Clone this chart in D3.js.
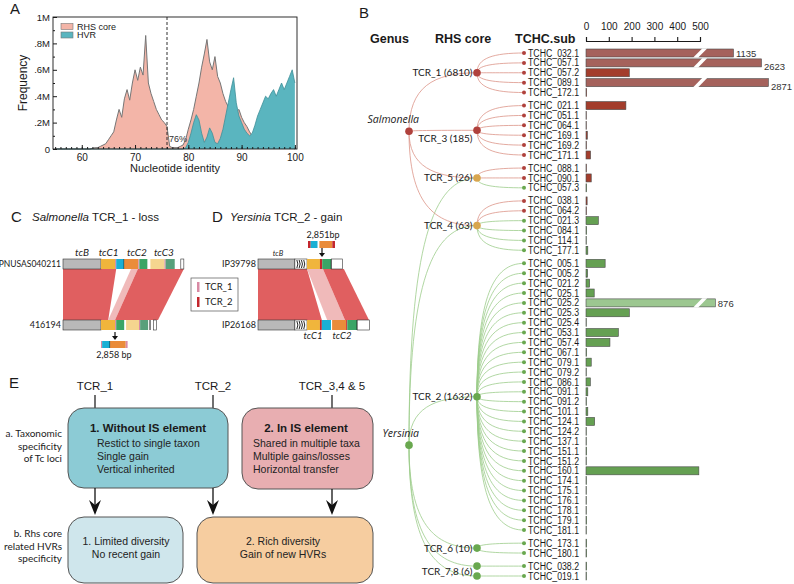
<!DOCTYPE html>
<html>
<head>
<meta charset="utf-8">
<script src="https://cdn.jsdelivr.net/npm/d3@7"></script>
<style>
  body { margin: 0; background: #fff; }
  svg { display: block; font-family: "Liberation Sans", Arial, sans-serif; }
</style>
</head>
<body>
<svg id="fig" width="794" height="584"></svg>
<script>
// ---------- data ----------
// panel A: frequency by nucleotide identity (in millions), 55..100 step 0.5
const identity = d3.range(55, 100.01, 0.5);
const rhsCore = [0,0,0,0,0,0,0,0,0,0,0,0,0,0,0.005,0.01,0.01,0.02,0.03,0.04,
  0.07,0.1,0.13,0.22,0.3,0.24,0.38,0.45,0.37,0.5,0.6,0.52,0.62,0.56,0.86,0.5,0.42,0.36,0.3,0.26,
  0.22,0.2,0.17,0.02,0.01,0.01,0.01,0.02,0.03,0.07,0.15,0.22,0.3,0.4,0.5,0.62,0.72,0.83,0.66,0.6,
  0.7,0.55,0.5,0.42,0.36,0.32,0.34,0.3,0.28,0.3,0.24,0.2,0.17,0.13,0.1,0.07,0.05,0.04,0.03,0.03,
  0.02,0.02,0.02,0.01,0.01,0.01,0.01,0.01,0.01,0.01,0];
const hvr = [0,0,0,0,0,0,0,0,0,0,0,0,0,0,0,0,0,0,0,0,
  0,0,0,0,0,0,0,0,0,0,0,0,0,0,0,0,0,0,0,0,
  0,0,0,0,0,0,0,0,0,0.01,0.05,0.12,0.2,0.26,0.22,0.12,0.05,0.09,0.16,0.12,
  0.05,0.04,0.08,0.15,0.25,0.35,0.45,0.54,0.35,0.25,0.2,0.15,0.12,0.1,0.12,0.18,0.25,0.3,0.35,0.4,
  0.38,0.42,0.45,0.4,0.45,0.5,0.45,0.5,0.55,0.6,0.5];

// panel B
const genera = ["Salmonella", "Yersinia"];
const cores = ["TCR_1", "TCR_3", "TCR_5", "TCR_4", "TCR_2", "TCR_6", "TCR_7", "TCR_8"];
const coreLabels = ["TCR_1 (6810)", "TCR_3 (185)", "TCR_5 (26)", "TCR_4 (63)", "TCR_2 (1632)", "TCR_6 (10)", "TCR_7,8 (6)", "TCR_7,8 (6)"];
const coreGenera = [["S"], ["S"], ["S", "Y"], ["S", "Y"], ["Y"], ["Y"], ["Y"], ["Y"]];
const coreSizes = [5, 6, 3, 6, 28, 2, 1, 1];
const subNames = [
  "TCHC_032.1","TCHC_057.1","TCHC_057.2","TCHC_089.1","TCHC_172.1",
  "TCHC_021.1","TCHC_051.1","TCHC_064.1","TCHC_169.1","TCHC_169.2","TCHC_171.1",
  "TCHC_088.1","TCHC_090.1","TCHC_057.3",
  "TCHC_038.1","TCHC_064.2","TCHC_021.3","TCHC_084.1","TCHC_114.1","TCHC_177.1",
  "TCHC_005.1","TCHC_005.2","TCHC_021.2","TCHC_025.1","TCHC_025.2","TCHC_025.3","TCHC_025.4",
  "TCHC_053.1","TCHC_057.4","TCHC_067.1","TCHC_079.1","TCHC_079.2","TCHC_086.1","TCHC_091.1",
  "TCHC_091.2","TCHC_101.1","TCHC_124.1","TCHC_124.2","TCHC_137.1","TCHC_151.1","TCHC_151.2",
  "TCHC_160.1","TCHC_174.1","TCHC_175.1","TCHC_176.1","TCHC_178.1","TCHC_179.1","TCHC_181.1",
  "TCHC_173.1","TCHC_180.1",
  "TCHC_038.2","TCHC_019.1"];
const subGenus = ["S","S","S","S","S","S","S","S","S","S","S","S","S","Y","S","S","Y","Y","Y","Y",
  "Y","Y","Y","Y","Y","Y","Y","Y","Y","Y","Y","Y","Y","Y","Y","Y","Y","Y","Y","Y",
  "Y","Y","Y","Y","Y","Y","Y","Y","Y","Y","Y","Y"];
const subValues = [1135, 2623, 190, 2871, 3,
  175, 1, 1, 6, 2, 20,
  2, 23, 3,
  5, 2, 54, 3, 1, 8,
  84, 7, 16, 36, 876, 190, 1, 142, 105, 3, 23, 1, 19, 8, 2, 8, 38, 1, 1, 3, 1, 495, 2, 1, 1, 1, 3, 1,
  3, 3,
  3, 2];
const barTicks = [0, 100, 200, 300, 400, 500];

// panel C / D gene tracks (segment type, length in kb)
const cTop = [["tcB",10],["tcC1",3.7],["tcr1",0.3],["cyan",2.1],["sep",0],["orange",3.7],["tcr1",0.3],["green",2.1],["gap",0.8],["tan",3.7],["tcr1",0.3],["teal",2.4],["gap",1.6],["box",0.8]];
const cBottom = [["tcB",10],["tcC1",3.7],["tcr1",0.3],["green",2.1],["gap",0.5],["tan",3.4],["tcr1",0.3],["teal",2.1],["gap",0.5],["sep",0],["gap",0.9],["box",0.8]];
const cInsert = [["tcr1",0.3],["cyan",2.1],["sep",0],["orange",4.1],["tcr1",0.5]];
const cGenes = [["tcB",0,10],["tcC1",10,14],["tcC2",16.4,22.5],["tcC3",23.1,30]];
const cLinks = [[0,14,0,11.9,"full"],[17.9,19.7,11.9,13.7,"light"],[19.7,31.8,13.7,25,"full"]];
const dTop = [["tcB",9.7],["hatch",3.2],["tcC1",3.4],["tcr2",0.6],["green",2.4],["sep",0],["box",2.9]];
const dBottom = [["tcB",9.7],["hatch",3.2],["tcC1",3.4],["tcr2",0.5],["cyan",2.4],["gap",0.3],["orange",3.7],["tcr2",0.3],["green",2.6],["sep",0],["box",3.2]];
const dInsert = [["tcr2",0.7],["cyan",1.8],["gap",0.5],["orange",3.4],["tcr2",0.7]];
const dLinks = [[0,12.9,0,16.8,"full"],[12.9,17.1,18.2,22.9,"light"],[17.1,22.6,22.9,29.2,"full"]];

// panel E
const eTop = ["TCR_1", "TCR_2", "TCR_3,4 & 5"];
const eBox1 = ["1. Without IS element", "Restict to single taxon", "Single gain", "Vertical inherited"];
const eBox2 = ["2. In IS element", "Shared in multiple taxa", "Multiple gains/losses", "Horizontal transfer"];
const eBox3 = ["1. Limited diversity", "No recent gain"];
const eBox4 = ["2. Rich diversity", "Gain of new HVRs"];
const eRowA = ["a. Taxonomic", "specificity", "of Tc loci"];
const eRowB = ["b. Rhs core", "related HVRs", "specificity"];

// ---------- drawing ----------
const svg = d3.select("#fig");
const ink = "#1a1a1a";

function panelLetter(x, y, t) {
  svg.append("text").attr("x", x).attr("y", y).attr("font-size", 15).attr("fill", ink).text(t);
}

// ===== Panel A =====
panelLetter(10, 14, "A");
const xA = d3.scaleLinear().domain([54.6, 100.4]).range([53, 297]);
const yA = d3.scaleLinear().domain([0, 1]).range([149, 17]);
const gA = svg.append("g");

const areaA = d3.area().x((d, i) => xA(identity[i])).y0(yA(0)).y1(d => yA(d));
const lineA = d3.line().x((d, i) => xA(identity[i])).y(d => yA(d));
gA.append("path").datum(rhsCore).attr("d", areaA).attr("fill", "#f3b5a8");
gA.append("path").datum(rhsCore).attr("d", lineA).attr("fill", "none").attr("stroke", "#767676").attr("stroke-width", 1);
gA.append("path").datum(hvr).attr("d", areaA).attr("fill", "#5ab5bf");
gA.append("path").datum(hvr).attr("d", lineA).attr("fill", "none").attr("stroke", "#3f8f98").attr("stroke-width", 0.8);

gA.append("line").attr("x1", xA(76)).attr("x2", xA(76)).attr("y1", yA(1)).attr("y2", yA(0))
  .attr("stroke", ink).attr("stroke-dasharray", "3,2").attr("stroke-width", 0.9);
gA.append("text").attr("x", xA(76) + 2).attr("y", 142).attr("font-size", 9).attr("fill", "#333").text("76%");

gA.append("rect").attr("x", 53).attr("y", 17).attr("width", 244).attr("height", 132)
  .attr("fill", "none").attr("stroke", ink).attr("stroke-width", 0.9);

gA.append("g").attr("transform", `translate(0,${yA(0)})`)
  .call(d3.axisBottom(xA).tickValues([60, 70, 80, 90, 100]).tickSize(-4).tickPadding(5));
gA.append("g").attr("transform", `translate(0,${yA(0)})`)
  .call(d3.axisBottom(xA).tickValues(d3.range(55, 101, 1)).tickSize(-2).tickFormat(""));
const yAxisA = gA.append("g").attr("transform", `translate(53,0)`)
  .call(d3.axisLeft(yA).tickValues([0, 0.2, 0.4, 0.6, 0.8, 1]).tickSize(-4).tickPadding(3)
    .tickFormat(d => d === 0 ? "0" : d === 1 ? "1M" : d3.format(".1f")(d).slice(1) + "M"));
gA.append("g").attr("transform", `translate(53,0)`)
  .call(d3.axisLeft(yA).tickValues([0.1, 0.3, 0.5, 0.7, 0.9]).tickSize(-2).tickFormat(""));
gA.selectAll(".domain").remove();
gA.selectAll(".tick line").attr("stroke", ink);
gA.selectAll(".tick text").attr("font-size", 10).attr("fill", ink).attr("font-family", "Liberation Sans, Arial");
yAxisA.selectAll(".tick text").attr("font-size", 9.5);

// legend
const legA = [["RHS core", "#f3b5a8"], ["HVR", "#5ab5bf"]];
legA.forEach((d, i) => {
  gA.append("rect").attr("x", 61).attr("y", 23.5 + i * 8.5).attr("width", 12).attr("height", 6)
    .attr("fill", d[1]).attr("stroke", "#777").attr("stroke-width", 0.6);
  gA.append("text").attr("x", 77).attr("y", 29.5 + i * 8.5).attr("font-size", 9).attr("fill", ink).text(d[0]);
});
gA.append("text").attr("transform", "translate(27,83) rotate(-90)").attr("text-anchor", "middle")
  .attr("font-size", 12).attr("fill", ink).text("Frequency");
gA.append("text").attr("x", 175).attr("y", 172).attr("text-anchor", "middle")
  .attr("font-size", 11).attr("fill", ink).text("Nucleotide identity");

// ===== Panel B =====
panelLetter(359, 18, "B");
const gB = svg.append("g");
[["Genus", 370], ["RHS core", 435], ["TCHC.sub", 515]].forEach(d => {
  gB.append("text").attr("x", d[1]).attr("y", 43).attr("font-size", 12.5).attr("font-weight", "bold")
    .attr("fill", ink).text(d[0]);
});

const rowGap = 0.324;
const subCore = coreSizes.flatMap((n, c) => d3.range(n).map(() => c));
const groupOf = c => Math.min(c, 6);
const slots = subNames.map((d, i) => i + groupOf(subCore[i]) * rowGap);
const yB = d3.scaleLinear().domain([0, 51 + 6 * rowGap]).range([53, 576]);
const rootX = 409, coreX = 477, leafX = 524, barX0 = 586;

const leafY = slots.map(s => yB(s));
const coreY = cores.map((c, ci) => d3.mean(leafY.filter((y, i) => subCore[i] === ci)));
const rootY = { S: yB(7.6 + rowGap), Y: yB(38.4 + 4 * rowGap) };

const red = "#b0413c", green = "#69a84f", gold = "#d8a64f";
const redLink = "#dc9488", greenLink = "#9dcd8c";

function link(x0, y0, x1, y1) {
  return `M${x0},${y0}C${x0},${y0 + (y1 - y0) * 0.75} ${x0 + (x1 - x0) * 0.35},${y1} ${x1},${y1}`;
}

// root -> core edges
cores.forEach((c, ci) => {
  coreGenera[ci].forEach(g => {
    gB.append("path").attr("d", link(rootX, rootY[g], coreX, coreY[ci]))
      .attr("fill", "none").attr("stroke", g === "S" ? redLink : greenLink).attr("stroke-width", 0.8);
  });
});
// core -> leaf edges
subNames.forEach((n, i) => {
  gB.append("path").attr("d", link(coreX, coreY[subCore[i]], leafX, leafY[i]))
    .attr("fill", "none").attr("stroke", subGenus[i] === "S" ? redLink : greenLink).attr("stroke-width", 0.8);
});
// leaf dots + labels
subNames.forEach((n, i) => {
  gB.append("circle").attr("cx", leafX).attr("cy", leafY[i]).attr("r", 2)
    .attr("fill", subGenus[i] === "S" ? red : green);
  gB.append("text").attr("x", leafX + 4).attr("y", leafY[i] + 3.6).attr("font-size", 10)
    .attr("textLength", 51).attr("lengthAdjust", "spacingAndGlyphs").attr("fill", ink).text(n);
});
// core dots + labels
cores.forEach((c, ci) => {
  const gs = coreGenera[ci];
  gB.append("circle").attr("cx", coreX).attr("cy", coreY[ci]).attr("r", 3.8)
    .attr("fill", gs.length > 1 ? gold : gs[0] === "S" ? red : green);
});
const labelDone = new Set();
cores.forEach((c, ci) => {
  const lab = coreLabels[ci];
  if (labelDone.has(lab)) return;
  labelDone.add(lab);
  const ys = coreY.filter((y, j) => coreLabels[j] === lab);
  const dy = c === "TCR_3" ? 12 : 3.5;
  gB.append("text").attr("x", coreX - 4.5).attr("y", d3.mean(ys) + dy).attr("text-anchor", "end")
    .attr("font-family", "Lato, sans-serif").attr("font-size", 10).attr("fill", ink).text(lab);
});
// roots
genera.forEach(g => {
  const k = g[0];
  gB.append("circle").attr("cx", rootX).attr("cy", rootY[k]).attr("r", 3.8).attr("fill", k === "S" ? red : green);
  gB.append("text").attr("x", rootX + 10).attr("y", rootY[k] - 8).attr("text-anchor", "end")
    .attr("font-family", "Open Sans, sans-serif").attr("font-style", "italic").attr("font-size", 10.5)
    .attr("fill", ink).text(g);
});

// bars
const xBarAxis = d3.scaleLinear().domain([0, 500]).range([barX0, 700]);
const xBar = d3.scaleLinear().domain([0, 500, 800, 1200, 2500, 3000]).range([barX0, 700, 710, 738, 758, 772]);
const barH = 8;
const barFill = (i) => {
  const broken = subValues[i] > 500;
  if (subGenus[i] === "S") return broken ? "#a5625c" : "#a33d2c";
  return broken ? "#9cc790" : "#65a052";
};
subValues.forEach((v, i) => {
  gB.append("rect").attr("x", barX0).attr("y", leafY[i] - barH / 2)
    .attr("width", Math.max(0.3, xBar(v) - barX0)).attr("height", barH)
    .attr("fill", barFill(i)).attr("stroke", "#4a4a4a").attr("stroke-width", 0.6);
  if (v > 500) {
    const bx = xBarAxis(470), top = leafY[i] - barH / 2 - 0.6, bot = leafY[i] + barH / 2 + 0.6;
    gB.append("path").attr("d", `M${bx},${bot}L${bx + 5},${bot}L${bx + 14},${top}L${bx + 9},${top}Z`).attr("fill", "#fff");
    gB.append("text").attr("x", xBar(v) + 2.5).attr("y", leafY[i] + (v > 2000 ? 7 : 4))
      .attr("font-size", 9.5).attr("fill", "#333").text(v);
  }
});
const barAxis = gB.append("g").attr("transform", "translate(0,41)")
  .call(d3.axisTop(xBarAxis).tickValues(barTicks).tickSize(4).tickSizeOuter(4).tickPadding(7));
barAxis.selectAll("text").attr("font-size", 10).attr("fill", ink).attr("font-family", "Liberation Sans, Arial");
barAxis.selectAll("line,path").attr("stroke", ink).attr("stroke-width", 1.1);

// ===== Panels C & D =====
const kb = d3.scaleLinear().domain([0, 1]).range([0, 3.8]);
const segColor = {
  tcB: "#b9b9b9", tcC1: "#f0b53c", tcr1: "#d88aa4", tcr2: "#c3262d", cyan: "#1bb0d4",
  orange: "#ea8c3a", green: "#3aa566", tan: "#f5d58f", teal: "#58a07b", box: "#ffffff", hatch: "#ffffff"
};
function drawTrack(g, x0, y, h, segs) {
  let pos = 0;
  segs.forEach(([t, len]) => {
    const x = x0 + kb(pos), w = kb(len);
    if (t === "sep") {
      g.append("line").attr("x1", x).attr("x2", x).attr("y1", y).attr("y2", y + h).attr("stroke", "#111").attr("stroke-width", 1);
    } else if (t !== "gap") {
      g.append("rect").attr("x", x).attr("y", y).attr("width", w).attr("height", h)
        .attr("fill", segColor[t]).attr("stroke", t === "box" || t === "hatch" || t === "tcB" ? "#333" : "none").attr("stroke-width", 0.6);
      if (t === "hatch") {
        d3.range(4).forEach(k => {
          const hx = x + 2 + k * (w - 3) / 4;
          g.append("path").attr("d", `M${hx},${y + 1}Q${hx + 2},${y + h / 2} ${hx},${y + h - 1}`)
            .attr("fill", "none").attr("stroke", "#111").attr("stroke-width", 0.9);
        });
      }
    }
    pos += len;
  });
}
function drawLinks(g, x0, yTop, yBot, links) {
  links.forEach(([a, b, c, d, kind]) => {
    g.append("path")
      .attr("d", `M${x0 + kb(a)},${yTop}L${x0 + kb(b)},${yTop}L${x0 + kb(d)},${yBot}L${x0 + kb(c)},${yBot}Z`)
      .attr("fill", kind === "full" ? "#e05f60" : "#eeb3b3").attr("opacity", kind === "full" ? 1 : 0.9);
  });
}
function downArrow(g, x, y0, y1) {
  g.append("line").attr("x1", x).attr("x2", x).attr("y1", y0).attr("y2", y1 - 3).attr("stroke", "#111").attr("stroke-width", 1.2);
  g.append("path").attr("d", `M${x - 3},${y1 - 4}L${x},${y1}L${x + 3},${y1 - 4}Z`).attr("fill", "#111");
}
const trackTopY = 259, trackBotY = 320, trackH = 10;

// C
panelLetter(11, 222, "C");
const gC = svg.append("g");
gC.append("text").attr("x", 32).attr("y", 221).attr("font-size", 11.5).attr("fill", ink)
  .html('<tspan font-style="italic">Salmonella</tspan> TCR_1 - loss');
const cX0 = 63;
drawLinks(gC, cX0, trackTopY + trackH, trackBotY, cLinks);
drawTrack(gC, cX0, trackTopY, trackH, cTop);
drawTrack(gC, cX0, trackBotY, trackH, cBottom);
cGenes.forEach(([n, a, b]) => {
  gC.append("text").attr("x", cX0 + kb((a + b) / 2)).attr("y", 256).attr("text-anchor", "middle")
    .attr("font-family", "Lato, sans-serif").attr("font-style", "italic").attr("font-size", 10).attr("fill", "#222").text(n);
});
gC.append("text").attr("x", 61).attr("y", 267).attr("text-anchor", "end").attr("font-family", "Lato, sans-serif")
  .attr("font-size", 8.5).attr("fill", ink).text("PNUSAS040211");
gC.append("text").attr("x", 61).attr("y", 328).attr("text-anchor", "end").attr("font-family", "Lato, sans-serif")
  .attr("font-size", 9).attr("fill", ink).text("416194");
downArrow(gC, 115, 332, 340);
drawTrack(gC, 101, 341, 7, cInsert);
gC.append("text").attr("x", 114).attr("y", 358).attr("text-anchor", "middle").attr("font-family", "Lato, sans-serif")
  .attr("font-size", 9).attr("fill", ink).text("2,858 bp");

// legend between C and D
gC.append("rect").attr("x", 191).attr("y", 278).attr("width", 47).attr("height", 33)
  .attr("fill", "#fff").attr("stroke", "#555").attr("stroke-width", 0.7);
[["TCR_1", segColor.tcr1], ["TCR_2", segColor.tcr2]].forEach((d, i) => {
  gC.append("rect").attr("x", 197).attr("y", 282 + i * 15).attr("width", 2.5).attr("height", 10).attr("fill", d[1]);
  gC.append("text").attr("x", 205).attr("y", 290 + i * 15).attr("font-family", "Lato, sans-serif")
    .attr("font-size", 9.5).attr("fill", ink).text(d[0]);
});

// D
panelLetter(212, 222, "D");
const gD = svg.append("g");
gD.append("text").attr("x", 230).attr("y", 221).attr("font-size", 11.5).attr("fill", ink)
  .html('<tspan font-style="italic">Yersinia</tspan> TCR_2 - gain');
const dX0 = 258;
drawLinks(gD, dX0, trackTopY + trackH, trackBotY, dLinks);
drawTrack(gD, dX0, trackTopY, trackH, dTop);
drawTrack(gD, dX0, trackBotY, trackH, dBottom);
gD.append("text").attr("x", 256).attr("y", 267).attr("text-anchor", "end").attr("font-family", "Lato, sans-serif")
  .attr("font-size", 9).attr("fill", ink).text("IP39798");
gD.append("text").attr("x", 256).attr("y", 328).attr("text-anchor", "end").attr("font-family", "Lato, sans-serif")
  .attr("font-size", 9).attr("fill", ink).text("IP26168");
gD.append("text").attr("x", 278).attr("y", 256).attr("text-anchor", "middle").attr("font-family", "Lato, sans-serif")
  .attr("font-style", "italic").attr("font-size", 7.5).attr("fill", "#222").text("tcB");
[["tcC1", 313], ["tcC2", 342]].forEach(d => {
  gD.append("text").attr("x", d[1]).attr("y", 339).attr("text-anchor", "middle").attr("font-family", "Lato, sans-serif")
    .attr("font-style", "italic").attr("font-size", 9.5).attr("fill", "#222").text(d[0]);
});
drawTrack(gD, 308, 241, 7, dInsert);
gD.append("text").attr("x", 323).attr("y", 238).attr("text-anchor", "middle").attr("font-family", "Lato, sans-serif")
  .attr("font-size", 9).attr("fill", ink).text("2,851bp");
downArrow(gD, 322, 248, 257);

// ===== Panel E =====
panelLetter(9, 388, "E");
const gE = svg.append("g");
const topX = [95, 213, 332];
eTop.forEach((t, i) => {
  gE.append("text").attr("x", topX[i]).attr("y", 390).attr("text-anchor", "middle").attr("font-size", 11.5)
    .attr("fill", ink).text(t);
  gE.append("line").attr("x1", topX[i]).attr("x2", topX[i]).attr("y1", 395).attr("y2", 408).attr("stroke", "#111").attr("stroke-width", 1.2);
});
function box(x, y, w, h, fill) {
  gE.append("rect").attr("x", x).attr("y", y).attr("width", w).attr("height", h).attr("rx", 16)
    .attr("fill", fill).attr("stroke", "#555").attr("stroke-width", 1);
}
box(68, 408, 160, 80, "#8ccbd5");
box(242, 408, 131, 81, "#e8aeb1");
box(68, 517, 115, 66, "#cfe6ec");
box(197, 517, 176, 66, "#f6cda0");

function boxText(lines, cx, lx) {
  gE.append("text").attr("x", cx).attr("y", 432).attr("text-anchor", "middle").attr("font-size", 11.5)
    .attr("font-weight", "bold").attr("fill", ink).text(lines[0]);
  lines.slice(1).forEach((l, i) => {
    gE.append("text").attr("x", lx).attr("y", 447 + i * 13).attr("font-size", 10.5).attr("fill", "#222").text(l);
  });
}
boxText(eBox1, 148, 97);
boxText(eBox2, 306, 253);
[[eBox3, 126], [eBox4, 283]].forEach(([lines, cx]) => {
  lines.forEach((l, i) => {
    gE.append("text").attr("x", cx).attr("y", 545 + i * 13).attr("text-anchor", "middle").attr("font-size", 10.5)
      .attr("fill", "#222").text(l);
  });
});
[[eRowA, 437], [eRowB, 537]].forEach(([lines, y0]) => {
  lines.forEach((l, i) => {
    gE.append("text").attr("x", 62).attr("y", y0 + i * 12.5).attr("text-anchor", "end").attr("font-family", "Lato, sans-serif")
      .attr("font-size", 10).attr("fill", "#222").text(l);
  });
});
function bigArrow(x, y0, y1) {
  gE.append("line").attr("x1", x).attr("x2", x).attr("y1", y0).attr("y2", y1 - 8).attr("stroke", "#111").attr("stroke-width", 1.3);
  gE.append("path").attr("d", `M${x - 6},${y1 - 15}L${x},${y1}L${x + 6},${y1 - 15}L${x},${y1 - 10}Z`).attr("fill", "#111");
}
bigArrow(95, 488, 515);
bigArrow(213, 488, 515);
bigArrow(332, 489, 515);
</script>
</body>
</html>
